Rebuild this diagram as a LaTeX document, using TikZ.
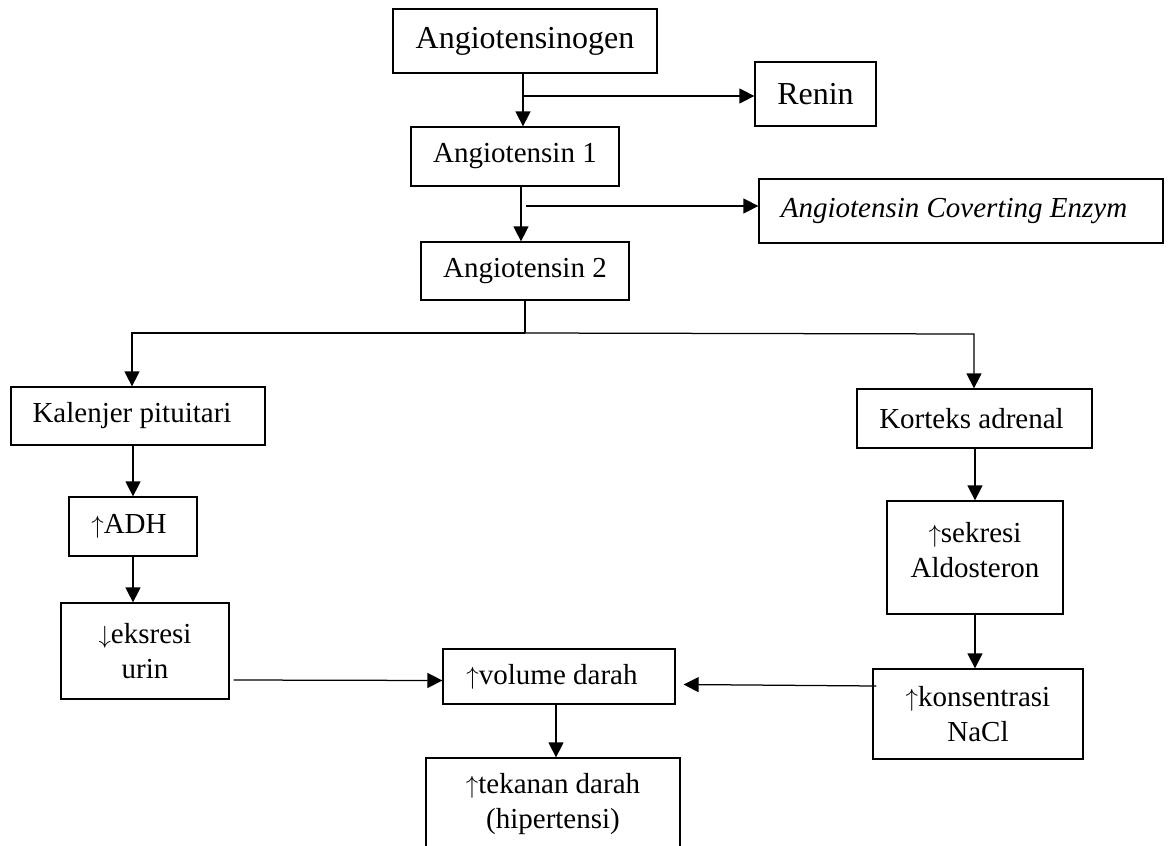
\documentclass[tikz,border=0pt]{standalone}
\usepackage{fontspec}
\setmainfont{Liberation Serif}
\usetikzlibrary{arrows.meta,calc}
\newcommand{\upar}{\ensuremath{\uparrow}}
\newcommand{\dnar}{\ensuremath{\downarrow}}
\begin{document}
\begin{tikzpicture}[x=1pt,y=-1pt,
  box/.style={draw, line width=1.25pt, inner sep=0pt, align=center, font=\fontsize{29}{35}\selectfont},
  bigbox/.style={box, font=\fontsize{32}{38}\selectfont},
  txt/.style={inner sep=0pt, align=center, font=\fontsize{29}{35}\selectfont},
  conn/.style={line width=1.25pt},
  arr/.style={conn, -{Triangle[length=15pt,width=15pt]}}]
\clip (0,0) rectangle (1168,846);
\fill[white] (0,0) rectangle (1168,846);
% nodes
\node[bigbox, minimum width=264, minimum height=64] (ag) at (525,41) {Angiotensinogen};
\node[bigbox, minimum width=121, minimum height=64] (renin) at (815.5,94) {Renin};
\node[box, minimum width=208, minimum height=59] (a1) at (515,156.5) {Angiotensin 1};
\node[box, minimum width=404, minimum height=64] (ace) at (961,211) {\itshape Angiotensin Coverting Enzym\hspace{14pt}};
\node[box, minimum width=208, minimum height=58] (a2) at (525,271) {Angiotensin 2};
\node[box, minimum width=254, minimum height=58] (kal) at (138,416) {Kalenjer pituitari\hspace{12pt}};
\node[box, minimum width=235, minimum height=59] (kor) at (974.5,418.5) {Korteks adrenal\hspace{6pt}};
\node[box, minimum width=128, minimum height=59] (adh) at (133,526.5) {\upar ADH\hspace{8pt}};
\node[box, minimum width=168, minimum height=96] (eks) at (145,651) {\dnar eksresi\\urin};
\node[box, minimum width=176, minimum height=113] (aldo) at (975,557.5) {};
\node[txt] (aldotxt) at (975,550) {\upar sekresi\\Aldosteron};
\node[box, minimum width=232, minimum height=55] (vol) at (559,676.5) {\upar volume darah\hspace{14pt}};
\node[box, minimum width=210, minimum height=90] (nacl) at (978,714) {\upar konsentrasi\\NaCl};
\node[box, minimum width=254, minimum height=94] (tek) at (553,805) {};
\node[txt] (tektxt) at (553,804) {\upar tekanan darah\\(hipertensi)};
% junction coordinates
\coordinate (v1) at (523,96);
\coordinate (v2) at (521,206);
\coordinate (j2) at (526,206);
\coordinate (sp) at (525,333);
\coordinate (L) at (132,333);
\coordinate (R) at (974,334);
\coordinate (v3) at (556,0);
\coordinate (v4) at (975,0);
% connectors
\draw[arr] (ag.south -| v1) -- (a1.north -| v1);
\draw[arr] (v1) -- (v1 -| renin.west);
\draw[arr] (a1.south -| v2) -- (a2.north -| v2);
\draw[arr] (j2) -- (j2 -| ace.west);
\draw[conn] (a2.south) -- (sp);
\draw[arr] (sp) -- (L) -- (kal.north -| L);
\draw[arr] (sp) -- (R) -- (kor.north -| R);
\draw[arr] (adh.north |- kal.south) -- (adh.north);
\draw[arr] (adh.south) -- (adh.south |- eks.north);
\draw[arr] ($(eks.east)+(4,29)$) -- ($(vol.west)+(0,4)$);
\draw[arr] ($(nacl.west)+(4,-28)$) -- ($(vol.east)+(8,8)$);
\draw[arr] (vol.south -| v3) -- (tek.north -| v3);
\draw[arr] (kor.south -| v4) -- (aldo.north -| v4);
\draw[arr] (aldo.south -| v4) -- (nacl.north -| v4);
\end{tikzpicture}
\end{document}
